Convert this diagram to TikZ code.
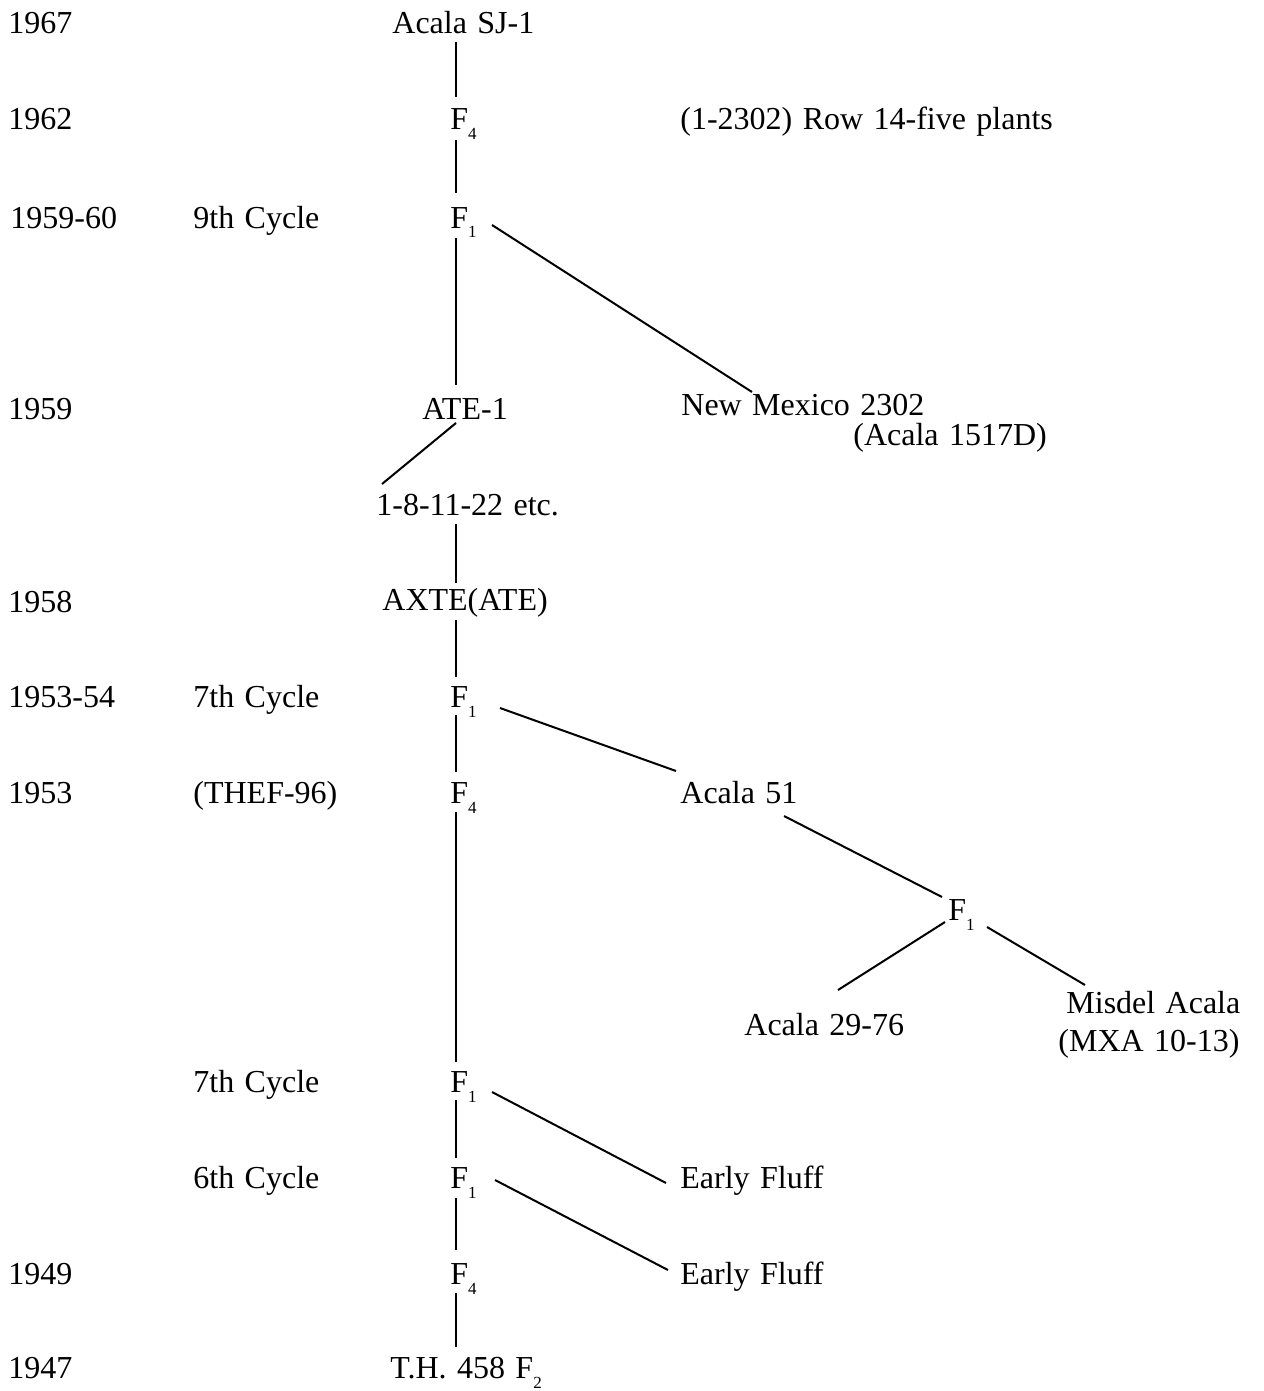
\documentclass[tikz,border=0pt]{standalone}
\usepackage{fontspec}
\setmainfont[WordSpace=1.3]{Liberation Serif}
\usetikzlibrary{calc}
\newcommand{\Fs}[1]{F\raisebox{-5pt}{\fontsize{8.5}{9}\selectfont #1}}
\begin{document}
\begin{tikzpicture}[x=0.5pt,y=-0.5pt,
  txt/.style={inner sep=0pt, anchor=base west, font=\fontsize{16}{19}\selectfont},
  conn/.style={line width=1pt}]
\useasboundingbox (0,0) rectangle (1263,1391);
\coordinate (spine) at (456,0);
% years
\node[txt] (y1967) at (8,34) {1967};
\node[txt] (y1962) at (8,130) {1962};
\node[txt] (y195960) at (10,228) {1959-60};
\node[txt] (y1959) at (8,419) {1959};
\node[txt] (y1958) at (8,612) {1958};
\node[txt] (y195354) at (8,707) {1953-54};
\node[txt] (y1953) at (8,803) {1953};
\node[txt] (y1949) at (8,1284) {1949};
\node[txt] (y1947) at (8,1378) {1947};
% cycles
\node[txt] (c9) at (193,228) {9th Cycle};
\node[txt] (c7a) at (193,707) {7th Cycle};
\node[txt] (thef) at (193,803) {(THEF-96)};
\node[txt] (c7b) at (193,1092) {7th Cycle};
\node[txt] (c6) at (193,1188) {6th Cycle};
% main column
\node[txt] (sj) at (392,34) {Acala SJ-1};
\node[txt] (f4a) at (450,130) {\Fs{4}};
\node[txt] (f1a) at (450,228) {\Fs{1}};
\node[txt] (ate) at (422,419) {ATE-1};
\node[txt] (n18) at (376,515) {1-8-11-22 etc.};
\node[txt] (axte) at (382,610) {AXTE(ATE)};
\node[txt] (f1b) at (450,707) {\Fs{1}};
\node[txt] (f4b) at (450,803) {\Fs{4}};
\node[txt] (f1d) at (450,1092) {\Fs{1}};
\node[txt] (f1e) at (450,1188) {\Fs{1}};
\node[txt] (f4c) at (450,1284) {\Fs{4}};
\node[txt] (th) at (390,1378) {T.H. 458 \Fs{2}};
% right side
\node[txt] (row) at (680,130) {(1-2302) Row 14-five plants};
\node[txt] (nm) at (681,415) {New Mexico 2302};
\node[txt] (a1517) at (853,445) {(Acala 1517D)};
\node[txt] (a51) at (680,803) {Acala 51};
\node[txt] (f1c) at (948,920) {\Fs{1}};
\node[txt] (a2976) at (744,1035) {Acala 29-76};
\node[txt] (misdel) at (1066,1013) {Misdel Acala};
\node[txt] (mxa) at (1058,1051) {(MXA 10-13)};
\node[txt] (ef1) at (680,1188) {Early Fluff};
\node[txt] (ef2) at (680,1284) {Early Fluff};
% spine connectors
\draw[conn] ($(sj.base -| spine)+(0,8)$) -- ($(f4a.base -| spine)+(0,-33)$);
\draw[conn] ($(f4a.base -| spine)+(0,10)$) -- ($(f1a.base -| spine)+(0,-35)$);
\draw[conn] ($(f1a.base -| spine)+(0,10)$) -- ($(ate.base -| spine)+(0,-34)$);
\draw[conn] ($(n18.base -| spine)+(0,9)$) -- ($(axte.base -| spine)+(0,-27)$);
\draw[conn] ($(axte.base -| spine)+(0,10)$) -- ($(f1b.base -| spine)+(0,-30)$);
\draw[conn] ($(f1b.base -| spine)+(0,8)$) -- ($(f4b.base -| spine)+(0,-31)$);
\draw[conn] ($(f4b.base -| spine)+(0,9)$) -- ($(f1d.base -| spine)+(0,-30)$);
\draw[conn] ($(f1d.base -| spine)+(0,8)$) -- ($(f1e.base -| spine)+(0,-30)$);
\draw[conn] ($(f1e.base -| spine)+(0,10)$) -- ($(f4c.base -| spine)+(0,-34)$);
\draw[conn] ($(f4c.base -| spine)+(0,9)$) -- ($(th.base -| spine)+(0,-31)$);
% diagonal connectors
\draw[conn] ($(f1a.base west)+(42,-3)$) -- ($(nm.base west)+(71,-23)$);
\draw[conn] ($(ate.base west)+(34,4)$) -- ($(n18.base west)+(6,-31)$);
\draw[conn] ($(f1b.base west)+(50,1)$) -- ($(a51.base west)+(-4,-32)$);
\draw[conn] ($(a51.base west)+(104,13)$) -- ($(f1c.base west)+(-6,-23)$);
\draw[conn] ($(f1c.base west)+(-3,2)$) -- ($(a2976.base west)+(94,-45)$);
\draw[conn] ($(f1c.base west)+(39,7)$) -- ($(misdel.base west)+(19,-28)$);
\draw[conn] ($(f1d.base west)+(42,0)$) -- ($(ef1.base west)+(-14,-5)$);
\draw[conn] ($(f1e.base west)+(45,-8)$) -- ($(ef2.base west)+(-12,-14)$);
\end{tikzpicture}
\end{document}
